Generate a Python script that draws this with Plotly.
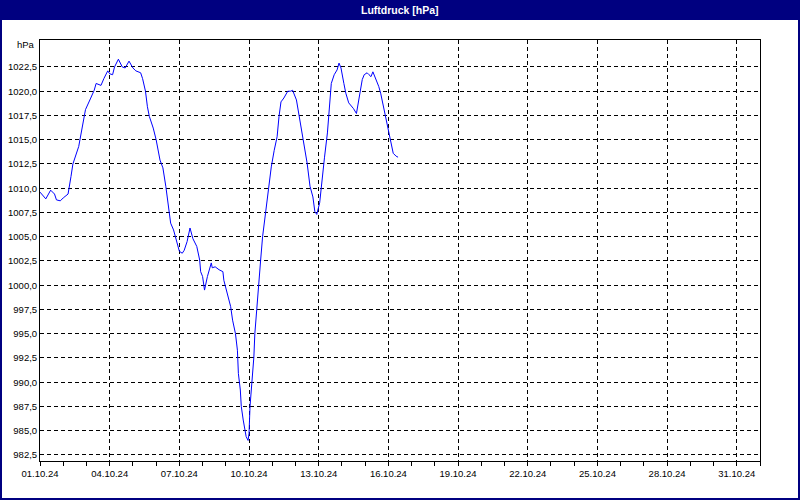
import plotly.graph_objects as go

# ---- data ----
times = [
    "2024-10-01 00:00", "2024-10-01 06:00", "2024-10-01 11:00", "2024-10-01 15:00",
    "2024-10-01 17:00", "2024-10-01 21:00", "2024-10-02 00:00", "2024-10-02 05:00",
    "2024-10-02 08:00", "2024-10-02 10:00", "2024-10-02 16:00", "2024-10-02 19:00",
    "2024-10-02 23:00", "2024-10-03 04:00", "2024-10-03 08:00", "2024-10-03 10:00",
    "2024-10-03 15:00", "2024-10-03 18:00", "2024-10-03 22:00", "2024-10-04 00:00",
    "2024-10-04 03:00", "2024-10-04 05:00", "2024-10-04 09:00", "2024-10-04 13:00",
    "2024-10-04 16:00", "2024-10-04 20:00", "2024-10-05 00:00", "2024-10-05 03:00",
    "2024-10-05 08:00", "2024-10-05 10:00", "2024-10-05 13:00", "2024-10-05 15:00",
    "2024-10-05 17:00", "2024-10-05 21:00", "2024-10-06 00:00", "2024-10-06 04:00",
    "2024-10-06 07:00", "2024-10-06 10:00", "2024-10-06 13:00", "2024-10-06 15:00",
    "2024-10-06 18:00", "2024-10-06 21:00", "2024-10-07 00:00", "2024-10-07 03:00",
    "2024-10-07 05:00", "2024-10-07 08:00", "2024-10-07 10:00", "2024-10-07 11:00",
    "2024-10-07 14:00", "2024-10-07 18:00", "2024-10-07 21:00", "2024-10-07 22:00",
    "2024-10-08 00:00", "2024-10-08 02:00", "2024-10-08 05:00", "2024-10-08 09:00",
    "2024-10-08 10:00", "2024-10-08 13:00", "2024-10-08 17:00", "2024-10-08 21:00",
    "2024-10-08 22:00", "2024-10-09 02:00", "2024-10-09 05:00", "2024-10-09 07:00",
    "2024-10-09 10:00", "2024-10-09 12:00", "2024-10-09 13:00", "2024-10-09 15:00",
    "2024-10-09 16:00", "2024-10-09 18:00", "2024-10-09 20:00", "2024-10-09 21:00",
    "2024-10-09 23:00", "2024-10-10 00:00", "2024-10-10 01:00", "2024-10-10 03:00",
    "2024-10-10 05:00", "2024-10-10 06:00", "2024-10-10 08:00", "2024-10-10 10:00",
    "2024-10-10 12:00", "2024-10-10 14:00", "2024-10-10 17:00", "2024-10-10 19:00",
    "2024-10-10 23:00", "2024-10-11 02:00", "2024-10-11 05:00", "2024-10-11 07:00",
    "2024-10-11 09:00", "2024-10-11 12:00", "2024-10-11 16:00", "2024-10-11 19:00",
    "2024-10-11 21:00", "2024-10-12 01:00", "2024-10-12 04:00", "2024-10-12 08:00",
    "2024-10-12 12:00", "2024-10-12 15:00", "2024-10-12 18:00", "2024-10-12 20:00",
    "2024-10-12 22:00", "2024-10-13 01:00", "2024-10-13 03:00", "2024-10-13 06:00",
    "2024-10-13 09:00", "2024-10-13 11:00", "2024-10-13 13:00", "2024-10-13 16:00",
    "2024-10-13 19:00", "2024-10-13 21:00", "2024-10-13 23:00", "2024-10-14 02:00",
    "2024-10-14 04:00", "2024-10-14 07:00", "2024-10-14 09:00", "2024-10-14 12:00",
    "2024-10-14 15:00", "2024-10-14 17:00", "2024-10-14 19:00", "2024-10-14 21:00",
    "2024-10-14 23:00", "2024-10-15 02:00", "2024-10-15 04:00", "2024-10-15 06:00",
    "2024-10-15 08:00", "2024-10-15 11:00", "2024-10-15 14:00", "2024-10-15 16:00",
    "2024-10-15 19:00", "2024-10-15 22:00", "2024-10-16 00:00", "2024-10-16 03:00",
    "2024-10-16 05:00", "2024-10-16 08:00", "2024-10-16 10:00",
]
pressure = [
    1009.6, 1008.9, 1009.8, 1009.4, 1008.8, 1008.7, 1009.0, 1009.4,
    1011.2, 1012.5, 1014.3, 1016.0, 1018.1, 1019.2, 1020.1, 1020.8,
    1020.6, 1021.3, 1022.1, 1021.8, 1021.7, 1022.5, 1023.3, 1022.5,
    1022.4, 1023.1, 1022.4, 1022.1, 1021.9, 1021.3, 1020.0, 1018.4,
    1017.4, 1016.2, 1015.0, 1012.9, 1012.1, 1010.2, 1007.8, 1006.4,
    1005.7, 1004.5, 1003.5, 1003.3, 1003.6, 1004.5, 1005.7, 1005.9,
    1004.8, 1004.0, 1002.6, 1001.4, 1000.9, 999.5, 1000.9, 1002.3,
    1001.8, 1001.9, 1001.6, 1001.4, 1000.5, 998.8, 997.8, 996.4,
    995.0, 993.3, 990.9, 989.2, 987.5, 986.1, 985.1, 984.4,
    984.0, 984.7, 987.5, 989.9, 992.6, 995.0, 997.8, 1000.2,
    1002.6, 1005.0, 1007.4, 1009.5, 1012.2, 1013.9, 1015.3, 1017.4,
    1018.9, 1019.3, 1020.0, 1020.0, 1020.1, 1019.1, 1017.4, 1015.3,
    1012.6, 1010.2, 1009.1, 1007.6, 1007.3, 1008.5, 1010.5, 1013.2,
    1015.7, 1018.4, 1020.8, 1021.7, 1022.2, 1022.9, 1022.4, 1020.8,
    1019.8, 1018.8, 1018.6, 1018.2, 1017.7, 1018.8, 1020.1, 1021.2,
    1021.7, 1021.9, 1021.7, 1021.5, 1022.0, 1021.3, 1020.5, 1019.8,
    1018.4, 1016.7, 1015.8, 1014.6, 1013.6, 1013.3, 1013.2,
]

x_tick_vals = ["2024-10-01", "2024-10-04", "2024-10-07", "2024-10-10", "2024-10-13",
               "2024-10-16", "2024-10-19", "2024-10-22", "2024-10-25", "2024-10-28",
               "2024-10-31"]
x_tick_text = ["01.10.24", "04.10.24", "07.10.24", "10.10.24", "13.10.24",
               "16.10.24", "19.10.24", "22.10.24", "25.10.24", "28.10.24",
               "31.10.24"]
y_tick_vals = [982.5, 985.0, 987.5, 990.0, 992.5, 995.0, 997.5, 1000.0, 1002.5,
               1005.0, 1007.5, 1010.0, 1012.5, 1015.0, 1017.5, 1020.0, 1022.5]

title_text = "Luftdruck [hPa]"
unit_text = "hPa"

# ---- geometry helpers (pixel -> paper) ----
W, H = 800, 500
ML, MR, MT, MB = 40, 40, 40, 39
PW, PH = W - ML - MR, H - MT - MB


def px(xp):
    return (xp - ML) / PW


def py(yp):
    return (H - MB - yp) / PH


NAVY = "#000080"
FONT = "Liberation Sans"
FS = 9.5

fig = go.Figure()
fig.add_trace(go.Scatter(
    x=times, y=pressure, mode="lines",
    line=dict(color="#0000FF", width=1),
    hoverinfo="skip", showlegend=False,
))

fig.update_layout(
    width=W, height=H,
    margin=dict(l=ML, r=MR, t=MT, b=MB, pad=0, autoexpand=False),
    paper_bgcolor="white", plot_bgcolor="white",
    separators=",.",
    showlegend=False,
    font=dict(family=FONT, size=FS, color="#000000"),
    shapes=[
        dict(type="rect", xref="paper", yref="paper",
             x0=px(0), x1=px(W), y0=py(20), y1=py(0),
             fillcolor=NAVY, line=dict(width=0), layer="above"),
        dict(type="rect", xref="paper", yref="paper",
             x0=px(1), x1=px(W - 1), y0=py(H - 1), y1=py(1),
             fillcolor="rgba(0,0,0,0)", line=dict(color=NAVY, width=2), layer="above"),
    ],
    annotations=[
        dict(text="<b>" + title_text + "</b>", xref="paper", yref="paper",
             x=px(W / 2), y=py(9.5), xanchor="center", yanchor="middle",
             showarrow=False, font=dict(family=FONT, size=10.5, color="white")),
        dict(text=unit_text, xref="paper", yref="paper",
             x=px(37), y=py(44), xanchor="right", yanchor="middle",
             showarrow=False, font=dict(family=FONT, size=FS, color="#000000")),
    ],
)

fig.update_xaxes(
    type="date",
    automargin=False,
    range=["2024-10-01", "2024-11-01"],
    tickmode="array", tickvals=x_tick_vals, ticktext=x_tick_text,
    ticks="outside", ticklen=4, tickcolor="black", tickwidth=1,
    showgrid=True, gridcolor="black", gridwidth=1, griddash="4px,3px",
    showline=True, linecolor="black", linewidth=1, mirror=True,
    zeroline=False,
    minor=dict(dtick=86400000, tick0="2024-10-01", ticks="outside", ticklen=4,
               tickcolor="black", showgrid=False),
    tickfont=dict(family=FONT, size=FS, color="#000000"),
)
fig.update_yaxes(
    automargin=False,
    range=[981.88, 1025.28],
    tickmode="array", tickvals=y_tick_vals, tickformat=".1f",
    ticks="", showgrid=True, gridcolor="black", gridwidth=1, griddash="4px,3px",
    showline=True, linecolor="black", linewidth=1, mirror=True,
    zeroline=False,
    tickfont=dict(family=FONT, size=FS, color="#000000"),
)

fig.write_html("out.html")
